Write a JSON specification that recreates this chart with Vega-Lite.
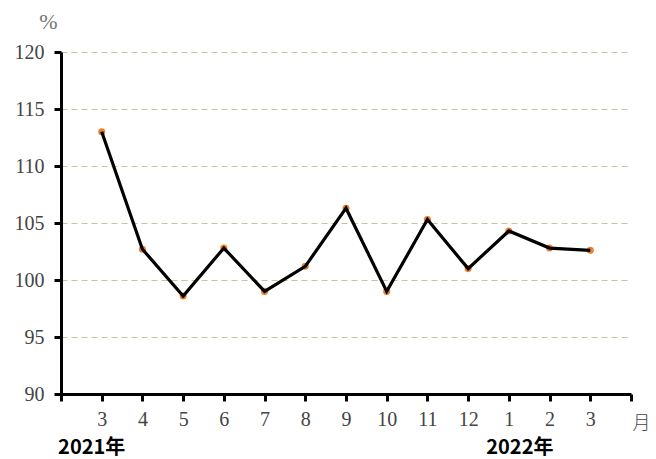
{
  "$schema": "https://vega.github.io/schema/vega-lite/v6.json",
  "width": 570,
  "height": 342,
  "autosize": {"type": "none"},
  "padding": {"left": 61, "top": 52, "right": 25, "bottom": 65},
  "background": "white",
  "config": {"view": {"stroke": null}},
  "data": {
    "values": [
      {"idx": 1, "month": "3", "value": 113.0, "year": "2021年"},
      {"idx": 2, "month": "4", "value": 102.7},
      {"idx": 3, "month": "5", "value": 98.6},
      {"idx": 4, "month": "6", "value": 102.8},
      {"idx": 5, "month": "7", "value": 99.0},
      {"idx": 6, "month": "8", "value": 101.2},
      {"idx": 7, "month": "9", "value": 106.3},
      {"idx": 8, "month": "10", "value": 99.0},
      {"idx": 9, "month": "11", "value": 105.3},
      {"idx": 10, "month": "12", "value": 101.0},
      {"idx": 11, "month": "1", "value": 104.3, "year": "2022年"},
      {"idx": 12, "month": "2", "value": 102.8},
      {"idx": 13, "month": "3", "value": 102.6}
    ]
  },
  "encoding": {
    "x": {
      "field": "idx",
      "type": "quantitative",
      "scale": {"domain": [0, 14], "nice": false, "zero": false},
      "axis": {
        "values": [0,1,2,3,4,5,6,7,8,9,10,11,12,13,14],
        "labelExpr": "['','3','4','5','6','7','8','9','10','11','12','1','2','3',''][datum.value]",
        "grid": false,
        "domainColor": "black",
        "domainWidth": 3,
        "tickColor": "black",
        "tickWidth": 3,
        "tickSize": 7,
        "labelFont": "Liberation Serif",
        "labelFontSize": 20,
        "labelColor": "#444444",
        "labelPadding": 8,
        "labelFlush": false,
        "title": "月",
        "titleFont": "Noto Sans CJK SC",
        "titleFontWeight": 300,
        "titleFontSize": 18,
        "titleColor": "#444444",
        "titleX": 580,
        "titleY": 29,
        "titleAlign": "center",
        "titleBaseline": "middle"
      }
    },
    "y": {
      "field": "value",
      "type": "quantitative",
      "scale": {"domain": [90, 120], "nice": false, "zero": false},
      "axis": {
        "values": [90, 95, 100, 105, 110, 115, 120],
        "grid": true,
        "gridColor": "#c9c2a2",
        "gridDash": [6, 4],
        "gridWidth": 1.2,
        "domainColor": "black",
        "domainWidth": 3,
        "tickColor": "black",
        "tickWidth": 3,
        "tickSize": 7,
        "labelFont": "Liberation Serif",
        "labelFontSize": 20,
        "labelColor": "#444444",
        "labelPadding": 10,
        "labelFlush": false,
        "title": "%",
        "titleAngle": 0,
        "titleFont": "Liberation Serif",
        "titleFontWeight": "normal",
        "titleFontSize": 22,
        "titleColor": "#777777",
        "titleX": -13,
        "titleY": -31,
        "titleAlign": "center",
        "titleBaseline": "middle"
      }
    }
  },
  "layer": [
    {
      "mark": {"type": "point", "filled": true, "size": 50, "color": "#e8822f", "opacity": 1}
    },
    {
      "mark": {"type": "line", "color": "black", "strokeWidth": 3.2}
    },
    {
      "transform": [{"filter": "datum.year == '2021年'"}],
      "mark": {"type": "text", "font": "Noto Sans CJK SC", "fontWeight": "bold", "fontSize": 20, "color": "black", "dx": -10, "baseline": "middle", "clip": false},
      "encoding": {
        "y": {"datum": 85.3, "type": "quantitative"},
        "text": {"field": "year"}
      }
    },
    {
      "transform": [{"filter": "datum.year == '2022年'"}],
      "mark": {"type": "text", "font": "Noto Sans CJK SC", "fontWeight": "bold", "fontSize": 20, "color": "black", "dx": 11, "baseline": "middle", "clip": false},
      "encoding": {
        "y": {"datum": 85.3, "type": "quantitative"},
        "text": {"field": "year"}
      }
    }
  ]
}
